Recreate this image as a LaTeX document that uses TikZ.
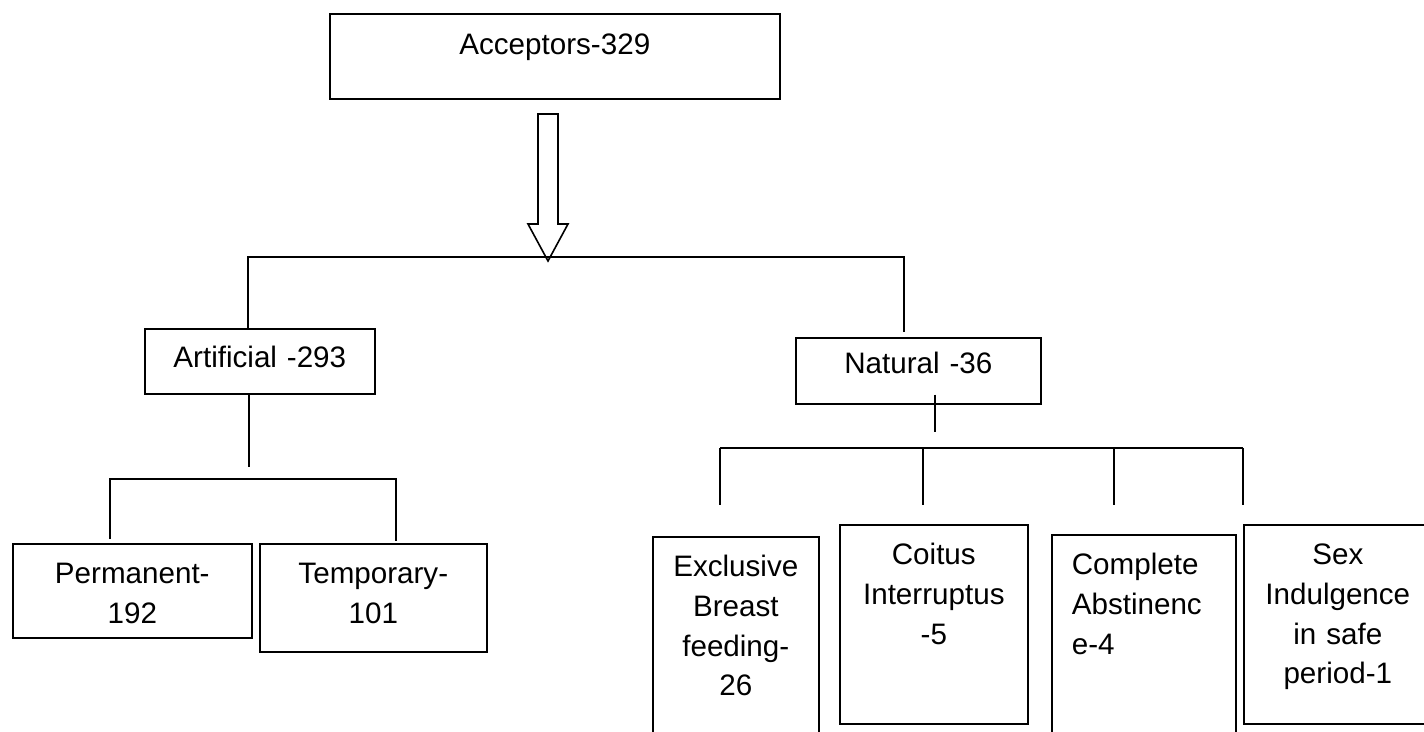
\documentclass[tikz,border=0pt]{standalone}
\usepackage{fontspec}
\setmainfont{Liberation Sans}
\usepackage{tikz}

\begin{document}
\begin{tikzpicture}[x=0.5pt, y=-0.5pt,
  box/.style={draw, line width=0.8pt, inner sep=0pt, anchor=north west, align=center,
    font=\fontsize{14.8}{19.8}\selectfont},
  link/.style={line width=0.8pt}]

  % Page frame (pixel units, y pointing down)
  \clip (0,0) rectangle (1424,732);

  % --- Top box
  \node[box, text width=225pt, text height=20.5pt, text depth=22pt] (acc) at (329,13) {Acceptors-329};

  % Hollow block arrow under the top box
  \coordinate (tip) at (548,261);
  \draw[link] (538,114) -- (558,114) -- (558,224) -- (568,224) -- (tip)
    -- (528,224) -- (538,224) -- cycle;

  % --- Second level
  \node[box, text width=115pt, text height=19.5pt, text depth=13pt] (art) at (144,328) {Artificial -293};
  \node[box, text width=122.5pt, text height=18pt, text depth=15pt] (nat) at (795,337) {Natural -36};

  % Branch line to Artificial and Natural
  \coordinate (busL) at (248,257);
  \coordinate (busR) at (904,257);
  \draw[link] (busL |- art.north) -- (busL) -- (busR) -- ([yshift=2.5pt]busR |- nat.north);

  % --- Artificial branch
  \node[box, text width=119.5pt, text height=20pt, text depth=27pt] (perm) at (12,543) {Permanent-\\192};
  \node[box, text width=113.5pt, text height=20pt, text depth=34pt] (temp) at (259,543) {Temporary-\\101};

  \coordinate (artdrop) at (249,467);
  \draw[link] (art.south -| artdrop) -- (artdrop);
  \coordinate (b2L) at (110,479);
  \coordinate (b2R) at (396,479);
  \draw[link] ([yshift=2pt]b2L |- perm.north) -- (b2L) -- (b2R) -- ([yshift=1pt]b2R |- temp.north);

  % --- Natural branch
  \node[box, text width=83pt, text height=20pt, text depth=97pt] (excl) at (652,536) {Exclusive\\Breast\\feeding-\\26};
  \node[box, text width=94pt, text height=20pt, text depth=79.5pt] (coit) at (839,524) {Coitus\\Interruptus\\-5};
  \node[box, text width=72pt, inner xsep=10pt, align=left, text height=20pt, text depth=98pt] (comp) at (1051,534) {Complete\\Abstinenc\\e-4};
  \node[box, text width=94pt, text height=20pt, text depth=79.5pt] (sex) at (1243,524) {Sex\\Indulgence\\in safe\\period-1};

  \coordinate (natdrop) at (935,432);
  \draw[link] ([yshift=5pt]nat.south -| natdrop) -- (natdrop);
  \coordinate (b3L) at (720,448);
  \coordinate (b3R) at (1243,448);
  \draw[link] (b3L) -- (b3R);
  \foreach \xx in {720,923,1114,1243}
    \draw[link] (\xx,448) -- ++(0,57);
\end{tikzpicture}
\end{document}
